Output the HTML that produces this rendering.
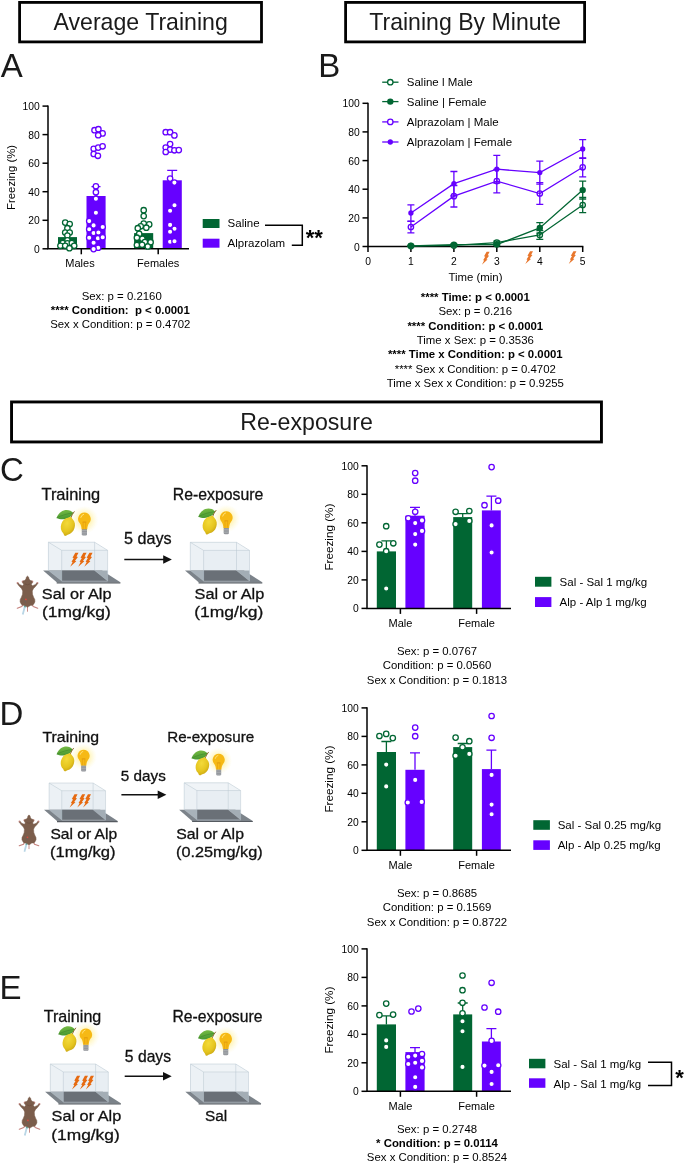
<!DOCTYPE html>
<html><head><meta charset="utf-8"><title>Figure</title>
<style>
html,body{margin:0;padding:0;background:#fff;}
svg{display:block;font-family:"Liberation Sans",sans-serif;fill:#000;}
.t11{font-size:11px}
.ax{stroke:#000;stroke-width:1.5;fill:none}
</style></head><body>
<svg width="685" height="1164" viewBox="0 0 685 1164">
<rect width="685" height="1164" fill="#fff"/>
<g opacity="0.999">

<rect x="19.60" y="2.40" width="241.90" height="39.50" fill="#fff" stroke="#000" stroke-width="2.8"/>
<text x="53.48" y="29.8" font-size="24.4" textLength="174.36" lengthAdjust="spacingAndGlyphs" fill="#1a1a1a">Average Training</text>
<rect x="345.60" y="2.40" width="239.00" height="39.50" fill="#fff" stroke="#000" stroke-width="2.8"/>
<text x="369.22" y="29.8" font-size="24.4" textLength="191.62" lengthAdjust="spacingAndGlyphs" fill="#1a1a1a">Training By Minute</text>
<rect x="11.55" y="401.95" width="589.90" height="40.00" fill="#fff" stroke="#000" stroke-width="2.9"/>
<text x="240.25" y="429.7" font-size="24.4" textLength="132.60" lengthAdjust="spacingAndGlyphs" fill="#1a1a1a">Re-exposure</text>
<text x="0.7" y="76.8" font-size="33" fill="#1a1a1a">A</text>
<text x="318.2" y="76.8" font-size="33" fill="#1a1a1a">B</text>
<text x="0" y="481.2" font-size="33" fill="#1a1a1a">C</text>
<text x="-0.4" y="725.3" font-size="33" fill="#1a1a1a">D</text>
<text x="-0.4" y="999.4" font-size="33" fill="#1a1a1a">E</text>
<rect x="58.0" y="237.1" width="19.0" height="11.7" fill="#006633"/>
<rect x="86.5" y="196.0" width="19.1" height="52.8" fill="#6600FF"/>
<rect x="134.1" y="233.1" width="19.1" height="15.7" fill="#006633"/>
<rect x="162.7" y="180.3" width="19.1" height="68.5" fill="#6600FF"/>
<path d="M96.0 196.0V186.7M91.5 186.7H100.5" stroke="#6600FF" stroke-width="1.3" fill="none"/>
<path d="M172.2 180.3V170.3M167.2 170.3H177.2" stroke="#6600FF" stroke-width="1.3" fill="none"/>
<path class="ax" d="M48 105.5V248.8M47.35 248.8H189"/>
<path class="ax" d="M42.5 248.8H48"/>
<text x="33.96" y="252.8" font-size="11.1" textLength="5.74" lengthAdjust="spacingAndGlyphs">0</text>
<path class="ax" d="M42.5 220.3H48"/>
<text x="28.22" y="224.3" font-size="11.1" textLength="11.48" lengthAdjust="spacingAndGlyphs">20</text>
<path class="ax" d="M42.5 191.7H48"/>
<text x="28.22" y="195.7" font-size="11.1" textLength="11.48" lengthAdjust="spacingAndGlyphs">40</text>
<path class="ax" d="M42.5 163.2H48"/>
<text x="28.22" y="167.2" font-size="11.1" textLength="11.48" lengthAdjust="spacingAndGlyphs">60</text>
<path class="ax" d="M42.5 134.6H48"/>
<text x="28.22" y="138.6" font-size="11.1" textLength="11.48" lengthAdjust="spacingAndGlyphs">80</text>
<path class="ax" d="M42.5 106.1H48"/>
<text x="22.48" y="110.1" font-size="11.1" textLength="17.22" lengthAdjust="spacingAndGlyphs">100</text>
<path class="ax" d="M81.3 248.8V254.3"/>
<path class="ax" d="M158.2 248.8V254.3"/>
<text x="80" y="267.2" font-size="11" text-anchor="middle">Males</text>
<text x="158.2" y="267.2" font-size="11" text-anchor="middle">Females</text>
<circle cx="65.2" cy="222.6" r="2.7" fill="#fff" stroke="#006633" stroke-width="1.3"/>
<circle cx="69.7" cy="224.0" r="2.7" fill="#fff" stroke="#006633" stroke-width="1.3"/>
<circle cx="67.4" cy="228.2" r="2.7" fill="#fff" stroke="#006633" stroke-width="1.3"/>
<circle cx="65.2" cy="232.5" r="2.7" fill="#fff" stroke="#006633" stroke-width="1.3"/>
<circle cx="69.7" cy="232.5" r="2.7" fill="#fff" stroke="#006633" stroke-width="1.3"/>
<circle cx="67.4" cy="235.6" r="2.7" fill="#fff" stroke="#006633" stroke-width="1.3"/>
<circle cx="67.4" cy="240.3" r="2.7" fill="#fff" stroke="#006633" stroke-width="1.3"/>
<circle cx="62.8" cy="243.0" r="2.7" fill="#fff" stroke="#006633" stroke-width="1.3"/>
<circle cx="67.4" cy="243.4" r="2.7" fill="#fff" stroke="#006633" stroke-width="1.3"/>
<circle cx="71.8" cy="243.0" r="2.7" fill="#fff" stroke="#006633" stroke-width="1.3"/>
<circle cx="60.4" cy="245.8" r="2.7" fill="#fff" stroke="#006633" stroke-width="1.3"/>
<circle cx="74.2" cy="245.8" r="2.7" fill="#fff" stroke="#006633" stroke-width="1.3"/>
<circle cx="65.2" cy="245.8" r="2.7" fill="#fff" stroke="#006633" stroke-width="1.3"/>
<circle cx="69.4" cy="248.2" r="2.7" fill="#fff" stroke="#006633" stroke-width="1.3"/>
<circle cx="94.5" cy="130.2" r="2.7" fill="#fff" stroke="#6600FF" stroke-width="1.3"/>
<circle cx="98.4" cy="129.2" r="2.7" fill="#fff" stroke="#6600FF" stroke-width="1.3"/>
<circle cx="102.6" cy="133.4" r="2.7" fill="#fff" stroke="#6600FF" stroke-width="1.3"/>
<circle cx="98.2" cy="135.2" r="2.7" fill="#fff" stroke="#6600FF" stroke-width="1.3"/>
<circle cx="93.7" cy="148.8" r="2.7" fill="#fff" stroke="#6600FF" stroke-width="1.3"/>
<circle cx="98.2" cy="147.6" r="2.7" fill="#fff" stroke="#6600FF" stroke-width="1.3"/>
<circle cx="102.6" cy="146.3" r="2.7" fill="#fff" stroke="#6600FF" stroke-width="1.3"/>
<circle cx="93.7" cy="154.0" r="2.7" fill="#fff" stroke="#6600FF" stroke-width="1.3"/>
<circle cx="97.9" cy="155.8" r="2.7" fill="#fff" stroke="#6600FF" stroke-width="1.3"/>
<circle cx="95.9" cy="186.3" r="2.7" fill="#fff" stroke="#6600FF" stroke-width="1.3"/>
<circle cx="95.9" cy="192.2" r="2.7" fill="#fff" stroke="#6600FF" stroke-width="1.3"/>
<circle cx="95.9" cy="198.7" r="2.7" fill="#fff" stroke="#6600FF" stroke-width="1.3"/>
<circle cx="95.9" cy="212.8" r="2.7" fill="#fff" stroke="#6600FF" stroke-width="1.3"/>
<circle cx="89.2" cy="221.1" r="2.7" fill="#fff" stroke="#6600FF" stroke-width="1.3"/>
<circle cx="93.6" cy="225.4" r="2.7" fill="#fff" stroke="#6600FF" stroke-width="1.3"/>
<circle cx="102.7" cy="227.0" r="2.7" fill="#fff" stroke="#6600FF" stroke-width="1.3"/>
<circle cx="89.2" cy="229.2" r="2.7" fill="#fff" stroke="#6600FF" stroke-width="1.3"/>
<circle cx="93.6" cy="233.0" r="2.7" fill="#fff" stroke="#6600FF" stroke-width="1.3"/>
<circle cx="98.4" cy="232.5" r="2.7" fill="#fff" stroke="#6600FF" stroke-width="1.3"/>
<circle cx="89.2" cy="237.7" r="2.7" fill="#fff" stroke="#6600FF" stroke-width="1.3"/>
<circle cx="97.9" cy="238.2" r="2.7" fill="#fff" stroke="#6600FF" stroke-width="1.3"/>
<circle cx="102.7" cy="237.3" r="2.7" fill="#fff" stroke="#6600FF" stroke-width="1.3"/>
<circle cx="93.6" cy="242.7" r="2.7" fill="#fff" stroke="#6600FF" stroke-width="1.3"/>
<circle cx="98.2" cy="247.7" r="2.7" fill="#fff" stroke="#6600FF" stroke-width="1.3"/>
<circle cx="93.6" cy="249.1" r="2.7" fill="#fff" stroke="#6600FF" stroke-width="1.3"/>
<circle cx="143.7" cy="210.2" r="2.7" fill="#fff" stroke="#006633" stroke-width="1.3"/>
<circle cx="143.7" cy="216.1" r="2.7" fill="#fff" stroke="#006633" stroke-width="1.3"/>
<circle cx="143.7" cy="223.5" r="2.7" fill="#fff" stroke="#006633" stroke-width="1.3"/>
<circle cx="149.2" cy="224.4" r="2.7" fill="#fff" stroke="#006633" stroke-width="1.3"/>
<circle cx="140.7" cy="226.3" r="2.7" fill="#fff" stroke="#006633" stroke-width="1.3"/>
<circle cx="137.8" cy="228.2" r="2.7" fill="#fff" stroke="#006633" stroke-width="1.3"/>
<circle cx="146.3" cy="227.7" r="2.7" fill="#fff" stroke="#006633" stroke-width="1.3"/>
<circle cx="139.2" cy="233.9" r="2.7" fill="#fff" stroke="#006633" stroke-width="1.3"/>
<circle cx="136.9" cy="237.7" r="2.7" fill="#fff" stroke="#006633" stroke-width="1.3"/>
<circle cx="142.4" cy="238.8" r="2.7" fill="#fff" stroke="#006633" stroke-width="1.3"/>
<circle cx="144.9" cy="242.0" r="2.7" fill="#fff" stroke="#006633" stroke-width="1.3"/>
<circle cx="150.6" cy="242.2" r="2.7" fill="#fff" stroke="#006633" stroke-width="1.3"/>
<circle cx="136.9" cy="245.0" r="2.7" fill="#fff" stroke="#006633" stroke-width="1.3"/>
<circle cx="142.1" cy="244.8" r="2.7" fill="#fff" stroke="#006633" stroke-width="1.3"/>
<circle cx="147.8" cy="246.5" r="2.7" fill="#fff" stroke="#006633" stroke-width="1.3"/>
<circle cx="165.7" cy="132.2" r="2.7" fill="#fff" stroke="#6600FF" stroke-width="1.3"/>
<circle cx="170.1" cy="132.2" r="2.7" fill="#fff" stroke="#6600FF" stroke-width="1.3"/>
<circle cx="174.4" cy="135.4" r="2.7" fill="#fff" stroke="#6600FF" stroke-width="1.3"/>
<circle cx="170.1" cy="144.1" r="2.7" fill="#fff" stroke="#6600FF" stroke-width="1.3"/>
<circle cx="165.7" cy="147.6" r="2.7" fill="#fff" stroke="#6600FF" stroke-width="1.3"/>
<circle cx="170.1" cy="149.6" r="2.7" fill="#fff" stroke="#6600FF" stroke-width="1.3"/>
<circle cx="174.4" cy="150.3" r="2.7" fill="#fff" stroke="#6600FF" stroke-width="1.3"/>
<circle cx="178.8" cy="150.1" r="2.7" fill="#fff" stroke="#6600FF" stroke-width="1.3"/>
<circle cx="165.7" cy="152.0" r="2.7" fill="#fff" stroke="#6600FF" stroke-width="1.3"/>
<circle cx="170.1" cy="178.6" r="2.7" fill="#fff" stroke="#6600FF" stroke-width="1.3"/>
<circle cx="174.4" cy="182.6" r="2.7" fill="#fff" stroke="#6600FF" stroke-width="1.3"/>
<circle cx="174.5" cy="205.2" r="2.7" fill="#fff" stroke="#6600FF" stroke-width="1.3"/>
<circle cx="170.1" cy="210.8" r="2.7" fill="#fff" stroke="#6600FF" stroke-width="1.3"/>
<circle cx="170.1" cy="224.9" r="2.7" fill="#fff" stroke="#6600FF" stroke-width="1.3"/>
<circle cx="174.5" cy="228.7" r="2.7" fill="#fff" stroke="#6600FF" stroke-width="1.3"/>
<circle cx="170.1" cy="231.8" r="2.7" fill="#fff" stroke="#6600FF" stroke-width="1.3"/>
<circle cx="170.1" cy="241.8" r="2.7" fill="#fff" stroke="#6600FF" stroke-width="1.3"/>
<circle cx="174.5" cy="241.2" r="2.7" fill="#fff" stroke="#6600FF" stroke-width="1.3"/>
<text transform="translate(14.5 177.45) rotate(-90)" font-size="11.4" text-anchor="middle">Freezing (%)</text>
<rect x="202.7" y="219" width="16.8" height="9" fill="#006633"/><rect x="202.7" y="238.7" width="16.8" height="9" fill="#6600FF"/>
<text x="227.6" y="227.2" font-size="11.5">Saline</text><text x="227.6" y="247.3" font-size="11.5">Alprazolam</text>
<path class="ax" d="M265 225.2H302.3V245.3H291.8"/>
<text x="305.8" y="245.4" font-size="22" font-weight="bold">**</text>
<text x="121.7" y="299.6" font-size="11.4" text-anchor="middle" xml:space="preserve">Sex: p = 0.2160</text>
<text x="120.3" y="313.7" font-size="11.4" text-anchor="middle" font-weight="bold" xml:space="preserve">**** Condition:  p &lt; 0.0001</text>
<text x="120.3" y="328.3" font-size="11.4" text-anchor="middle" xml:space="preserve">Sex x Condition: p = 0.4702</text>
<path class="ax" d="M368 102.7V246.5M367.35 246.5H583.35"/>
<path class="ax" d="M362.5 246.5H368"/>
<text x="353.96" y="250.5" font-size="11.1" textLength="5.74" lengthAdjust="spacingAndGlyphs">0</text>
<path class="ax" d="M362.5 217.9H368"/>
<text x="348.22" y="221.9" font-size="11.1" textLength="11.48" lengthAdjust="spacingAndGlyphs">20</text>
<path class="ax" d="M362.5 189.2H368"/>
<text x="348.22" y="193.2" font-size="11.1" textLength="11.48" lengthAdjust="spacingAndGlyphs">40</text>
<path class="ax" d="M362.5 160.6H368"/>
<text x="348.22" y="164.6" font-size="11.1" textLength="11.48" lengthAdjust="spacingAndGlyphs">60</text>
<path class="ax" d="M362.5 131.9H368"/>
<text x="348.22" y="135.9" font-size="11.1" textLength="11.48" lengthAdjust="spacingAndGlyphs">80</text>
<path class="ax" d="M362.5 103.3H368"/>
<text x="342.48" y="107.3" font-size="11.1" textLength="17.22" lengthAdjust="spacingAndGlyphs">100</text>
<path class="ax" d="M368.0 246.5V252.0"/>
<text x="365.13" y="264.8" font-size="11.1" textLength="5.74" lengthAdjust="spacingAndGlyphs">0</text>
<path class="ax" d="M410.9 246.5V252.0"/>
<text x="408.07" y="264.8" font-size="11.1" textLength="5.74" lengthAdjust="spacingAndGlyphs">1</text>
<path class="ax" d="M453.9 246.5V252.0"/>
<text x="451.01" y="264.8" font-size="11.1" textLength="5.74" lengthAdjust="spacingAndGlyphs">2</text>
<path class="ax" d="M496.8 246.5V252.0"/>
<text x="493.95" y="264.8" font-size="11.1" textLength="5.74" lengthAdjust="spacingAndGlyphs">3</text>
<path class="ax" d="M539.8 246.5V252.0"/>
<text x="536.89" y="264.8" font-size="11.1" textLength="5.74" lengthAdjust="spacingAndGlyphs">4</text>
<path class="ax" d="M582.7 246.5V252.0"/>
<text x="579.83" y="264.8" font-size="11.1" textLength="5.74" lengthAdjust="spacingAndGlyphs">5</text>
<text x="475.5" y="281" font-size="11.4" text-anchor="middle">Time (min)</text>
<circle cx="410.9" cy="246.1" r="2.7" fill="#fff" fill-opacity="0.75" stroke="#006633" stroke-width="1.3"/>
<circle cx="453.9" cy="245.4" r="2.7" fill="#fff" fill-opacity="0.75" stroke="#006633" stroke-width="1.3"/>
<circle cx="496.8" cy="242.6" r="2.7" fill="#fff" fill-opacity="0.75" stroke="#006633" stroke-width="1.3"/>
<circle cx="539.8" cy="235.0" r="2.7" fill="#fff" fill-opacity="0.75" stroke="#006633" stroke-width="1.3"/>
<circle cx="582.7" cy="205.0" r="2.7" fill="#fff" fill-opacity="0.75" stroke="#006633" stroke-width="1.3"/>
<path d="M410.9 246.1L453.9 245.4L496.8 242.6L539.8 235.0L582.7 205.0" stroke="#006633" stroke-width="1.3" fill="none"/>
<path d="M410.9 245.6V246.5M407.4 245.6H414.4M407.4 246.5H414.4" stroke="#006633" stroke-width="1.3" fill="none"/>
<path d="M453.9 244.8V245.9M450.4 244.8H457.4M450.4 245.9H457.4" stroke="#006633" stroke-width="1.3" fill="none"/>
<path d="M496.8 241.2V244.1M493.3 241.2H500.3M493.3 244.1H500.3" stroke="#006633" stroke-width="1.3" fill="none"/>
<path d="M539.8 230.7V239.3M536.3 230.7H543.3M536.3 239.3H543.3" stroke="#006633" stroke-width="1.3" fill="none"/>
<path d="M582.7 197.4V212.6M579.2 197.4H586.2M579.2 212.6H586.2" stroke="#006633" stroke-width="1.3" fill="none"/>
<path d="M410.9 245.8L453.9 244.6L496.8 244.6L539.8 227.9L582.7 190.1" stroke="#006633" stroke-width="1.3" fill="none"/>
<path d="M410.9 245.2V246.4M407.4 245.2H414.4M407.4 246.4H414.4" stroke="#006633" stroke-width="1.3" fill="none"/>
<path d="M453.9 243.9V245.4M450.4 243.9H457.4M450.4 245.4H457.4" stroke="#006633" stroke-width="1.3" fill="none"/>
<path d="M496.8 243.9V245.4M493.3 243.9H500.3M493.3 245.4H500.3" stroke="#006633" stroke-width="1.3" fill="none"/>
<path d="M539.8 222.6V233.2M536.3 222.6H543.3M536.3 233.2H543.3" stroke="#006633" stroke-width="1.3" fill="none"/>
<path d="M582.7 181.2V199.0M579.2 181.2H586.2M579.2 199.0H586.2" stroke="#006633" stroke-width="1.3" fill="none"/>
<circle cx="410.9" cy="245.8" r="3.2" fill="#006633"/>
<circle cx="453.9" cy="244.6" r="3.2" fill="#006633"/>
<circle cx="496.8" cy="244.6" r="3.2" fill="#006633"/>
<circle cx="539.8" cy="227.9" r="3.2" fill="#006633"/>
<circle cx="582.7" cy="190.1" r="3.2" fill="#006633"/>
<circle cx="410.9" cy="227.0" r="2.7" fill="#fff" fill-opacity="0.75" stroke="#6600FF" stroke-width="1.3"/>
<circle cx="453.9" cy="196.2" r="2.7" fill="#fff" fill-opacity="0.75" stroke="#6600FF" stroke-width="1.3"/>
<circle cx="496.8" cy="181.1" r="2.7" fill="#fff" fill-opacity="0.75" stroke="#6600FF" stroke-width="1.3"/>
<circle cx="539.8" cy="193.5" r="2.7" fill="#fff" fill-opacity="0.75" stroke="#6600FF" stroke-width="1.3"/>
<circle cx="582.7" cy="167.3" r="2.7" fill="#fff" fill-opacity="0.75" stroke="#6600FF" stroke-width="1.3"/>
<path d="M410.9 227.0L453.9 196.2L496.8 181.1L539.8 193.5L582.7 167.3" stroke="#6600FF" stroke-width="1.3" fill="none"/>
<path d="M410.9 221.3V232.8M407.4 221.3H414.4M407.4 232.8H414.4" stroke="#6600FF" stroke-width="1.3" fill="none"/>
<path d="M453.9 185.5V207.0M450.4 185.5H457.4M450.4 207.0H457.4" stroke="#6600FF" stroke-width="1.3" fill="none"/>
<path d="M496.8 169.3V192.8M493.3 169.3H500.3M493.3 192.8H500.3" stroke="#6600FF" stroke-width="1.3" fill="none"/>
<path d="M539.8 182.6V204.4M536.3 182.6H543.3M536.3 204.4H543.3" stroke="#6600FF" stroke-width="1.3" fill="none"/>
<path d="M582.7 157.9V176.8M579.2 157.9H586.2M579.2 176.8H586.2" stroke="#6600FF" stroke-width="1.3" fill="none"/>
<path d="M410.9 213.0L453.9 183.6L496.8 169.2L539.8 172.6L582.7 149.0" stroke="#6600FF" stroke-width="1.3" fill="none"/>
<path d="M410.9 204.8V221.2M407.4 204.8H414.4M407.4 221.2H414.4" stroke="#6600FF" stroke-width="1.3" fill="none"/>
<path d="M453.9 171.5V195.8M450.4 171.5H457.4M450.4 195.8H457.4" stroke="#6600FF" stroke-width="1.3" fill="none"/>
<path d="M496.8 155.3V183.1M493.3 155.3H500.3M493.3 183.1H500.3" stroke="#6600FF" stroke-width="1.3" fill="none"/>
<path d="M539.8 161.2V184.1M536.3 161.2H543.3M536.3 184.1H543.3" stroke="#6600FF" stroke-width="1.3" fill="none"/>
<path d="M582.7 139.7V158.3M579.2 139.7H586.2M579.2 158.3H586.2" stroke="#6600FF" stroke-width="1.3" fill="none"/>
<circle cx="410.9" cy="213.0" r="2.65" fill="#6600FF"/>
<circle cx="453.9" cy="183.6" r="2.65" fill="#6600FF"/>
<circle cx="496.8" cy="169.2" r="2.65" fill="#6600FF"/>
<circle cx="539.8" cy="172.6" r="2.65" fill="#6600FF"/>
<circle cx="582.7" cy="149.0" r="2.65" fill="#6600FF"/>
<path d="M382.2 82.2H398.5" stroke="#006633" stroke-width="1.3"/>
<circle cx="390.3" cy="82.2" r="2.7" fill="#fff" fill-opacity="1" stroke="#006633" stroke-width="1.3"/>
<text x="406.8" y="86.3" font-size="11.5">Saline l Male</text>
<path d="M382.2 101.6H398.5" stroke="#006633" stroke-width="1.3"/>
<circle cx="390.3" cy="101.6" r="3.2" fill="#006633"/>
<text x="406.8" y="105.69999999999999" font-size="11.5">Saline | Female</text>
<path d="M382.2 121.9H398.5" stroke="#6600FF" stroke-width="1.3"/>
<circle cx="390.3" cy="121.9" r="2.7" fill="#fff" fill-opacity="1" stroke="#6600FF" stroke-width="1.3"/>
<text x="406.8" y="126.0" font-size="11.5">Alprazolam | Male</text>
<path d="M382.2 142.0H398.5" stroke="#6600FF" stroke-width="1.3"/>
<circle cx="390.3" cy="142.0" r="2.65" fill="#6600FF"/>
<text x="406.8" y="146.1" font-size="11.5">Alprazolam | Female</text>
<path transform="translate(485.8 258.2) scale(0.93)" d="M0.9 -6.9H4.1L2.1 -3.1L3.5 -2.7L0.6 1.1L1.9 1.5L-4.2 7L-1.8 2.4L-2.9 2.1L-0.6 -1.6L-1.9 -2Z" fill="#E8762C"/>
<path transform="translate(529.2 257.6) scale(0.93)" d="M0.9 -6.9H4.1L2.1 -3.1L3.5 -2.7L0.6 1.1L1.9 1.5L-4.2 7L-1.8 2.4L-2.9 2.1L-0.6 -1.6L-1.9 -2Z" fill="#E8762C"/>
<path transform="translate(572.6 257.6) scale(0.93)" d="M0.9 -6.9H4.1L2.1 -3.1L3.5 -2.7L0.6 1.1L1.9 1.5L-4.2 7L-1.8 2.4L-2.9 2.1L-0.6 -1.6L-1.9 -2Z" fill="#E8762C"/>
<text x="475.3" y="300.8" font-size="11.4" text-anchor="middle" font-weight="bold" xml:space="preserve">**** Time: p &lt; 0.0001</text>
<text x="475.3" y="315.2" font-size="11.4" text-anchor="middle" xml:space="preserve">Sex: p = 0.216</text>
<text x="475.3" y="329.5" font-size="11.4" text-anchor="middle" font-weight="bold" xml:space="preserve">**** Condition: p &lt; 0.0001</text>
<text x="475.3" y="343.9" font-size="11.4" text-anchor="middle" xml:space="preserve">Time x Sex: p = 0.3536</text>
<text x="475.3" y="358.3" font-size="11.4" text-anchor="middle" font-weight="bold" xml:space="preserve">**** Time x Condition: p &lt; 0.0001</text>
<text x="475.3" y="372.7" font-size="11.4" text-anchor="middle" xml:space="preserve">**** Sex x Condition: p = 0.4702</text>
<text x="475.3" y="387.1" font-size="11.4" text-anchor="middle" xml:space="preserve">Time x Sex x Condition: p = 0.9255</text>
<rect x="376.8" y="551.4" width="19.2" height="57.0" fill="#006633"/>
<rect x="405.4" y="515.7" width="19.2" height="92.7" fill="#6600FF"/>
<rect x="453.2" y="517.1" width="19.0" height="91.3" fill="#006633"/>
<rect x="481.9" y="510.4" width="18.9" height="98.0" fill="#6600FF"/>
<path d="M386.4 551.4V540.8M381.4 540.8H391.4" stroke="#006633" stroke-width="1.3" fill="none"/>
<path d="M415.0 515.7V507.3M410.0 507.3H420.0" stroke="#6600FF" stroke-width="1.3" fill="none"/>
<path d="M462.7 517.1V513.6M457.7 513.6H467.7" stroke="#006633" stroke-width="1.3" fill="none"/>
<path d="M491.4 510.4V496.2M486.4 496.2H496.4" stroke="#6600FF" stroke-width="1.3" fill="none"/>
<path class="ax" d="M367 465.2V608.4M366.35 608.4H511"/>
<path class="ax" d="M361.5 608.4H367"/>
<text x="352.96" y="612.4" font-size="11.1" textLength="5.74" lengthAdjust="spacingAndGlyphs">0</text>
<path class="ax" d="M361.5 579.9H367"/>
<text x="347.22" y="583.9" font-size="11.1" textLength="11.48" lengthAdjust="spacingAndGlyphs">20</text>
<path class="ax" d="M361.5 551.4H367"/>
<text x="347.22" y="555.4" font-size="11.1" textLength="11.48" lengthAdjust="spacingAndGlyphs">40</text>
<path class="ax" d="M361.5 522.8H367"/>
<text x="347.22" y="526.8" font-size="11.1" textLength="11.48" lengthAdjust="spacingAndGlyphs">60</text>
<path class="ax" d="M361.5 494.3H367"/>
<text x="347.22" y="498.3" font-size="11.1" textLength="11.48" lengthAdjust="spacingAndGlyphs">80</text>
<path class="ax" d="M361.5 465.8H367"/>
<text x="341.48" y="469.8" font-size="11.1" textLength="17.22" lengthAdjust="spacingAndGlyphs">100</text>
<path class="ax" d="M400.4 608.4V613.9"/>
<path class="ax" d="M476.6 608.4V613.9"/>
<text x="400.4" y="626.6" font-size="11" text-anchor="middle">Male</text>
<text x="476.6" y="626.6" font-size="11" text-anchor="middle">Female</text>
<circle cx="386.2" cy="526.2" r="2.7" fill="#fff" stroke="#006633" stroke-width="1.3"/>
<circle cx="379.4" cy="544.6" r="2.7" fill="#fff" stroke="#006633" stroke-width="1.3"/>
<circle cx="393.3" cy="543.3" r="2.7" fill="#fff" stroke="#006633" stroke-width="1.3"/>
<circle cx="386.2" cy="551.2" r="2.7" fill="#fff" stroke="#006633" stroke-width="1.3"/>
<circle cx="386.2" cy="588.5" r="2.7" fill="#fff" stroke="#006633" stroke-width="1.3"/>
<circle cx="415.2" cy="473.1" r="2.7" fill="#fff" stroke="#6600FF" stroke-width="1.3"/>
<circle cx="415.2" cy="480.7" r="2.7" fill="#fff" stroke="#6600FF" stroke-width="1.3"/>
<circle cx="415.2" cy="511.8" r="2.7" fill="#fff" stroke="#6600FF" stroke-width="1.3"/>
<circle cx="408.3" cy="518.3" r="2.7" fill="#fff" stroke="#6600FF" stroke-width="1.3"/>
<circle cx="422.0" cy="520.4" r="2.7" fill="#fff" stroke="#6600FF" stroke-width="1.3"/>
<circle cx="415.2" cy="523.1" r="2.7" fill="#fff" stroke="#6600FF" stroke-width="1.3"/>
<circle cx="422.0" cy="530.9" r="2.7" fill="#fff" stroke="#6600FF" stroke-width="1.3"/>
<circle cx="415.2" cy="534.1" r="2.7" fill="#fff" stroke="#6600FF" stroke-width="1.3"/>
<circle cx="415.2" cy="544.6" r="2.7" fill="#fff" stroke="#6600FF" stroke-width="1.3"/>
<circle cx="455.6" cy="511.8" r="2.7" fill="#fff" stroke="#006633" stroke-width="1.3"/>
<circle cx="469.3" cy="511.0" r="2.7" fill="#fff" stroke="#006633" stroke-width="1.3"/>
<circle cx="455.6" cy="524.1" r="2.7" fill="#fff" stroke="#006633" stroke-width="1.3"/>
<circle cx="469.3" cy="520.9" r="2.7" fill="#fff" stroke="#006633" stroke-width="1.3"/>
<circle cx="491.6" cy="467.1" r="2.7" fill="#fff" stroke="#6600FF" stroke-width="1.3"/>
<circle cx="498.2" cy="500.7" r="2.7" fill="#fff" stroke="#6600FF" stroke-width="1.3"/>
<circle cx="484.5" cy="505.2" r="2.7" fill="#fff" stroke="#6600FF" stroke-width="1.3"/>
<circle cx="491.6" cy="525.4" r="2.7" fill="#fff" stroke="#6600FF" stroke-width="1.3"/>
<circle cx="491.6" cy="552.5" r="2.7" fill="#fff" stroke="#6600FF" stroke-width="1.3"/>
<text transform="translate(332.9 537.1) rotate(-90)" font-size="11.7" text-anchor="middle">Freezing (%)</text>
<rect x="535" y="576.8" width="16.4" height="9.9" fill="#006633"/><rect x="535" y="597.1" width="16.4" height="9.9" fill="#6600FF"/>
<text x="559.6" y="586.1" font-size="11.5">Sal - Sal 1 mg/kg</text><text x="559.6" y="606.4" font-size="11.5">Alp - Alp 1 mg/kg</text>
<text x="437" y="655.1" font-size="11.4" text-anchor="middle" xml:space="preserve">Sex: p = 0.0767</text>
<text x="437" y="669.3" font-size="11.4" text-anchor="middle" xml:space="preserve">Condition: p = 0.0560</text>
<text x="437" y="683.6" font-size="11.4" text-anchor="middle" xml:space="preserve">Sex x Condition: p = 0.1813</text>
<rect x="376.8" y="752.0" width="19.2" height="98.3" fill="#006633"/>
<rect x="405.4" y="769.8" width="19.2" height="80.5" fill="#6600FF"/>
<rect x="453.2" y="747.1" width="19.0" height="103.2" fill="#006633"/>
<rect x="481.9" y="769.1" width="18.9" height="81.2" fill="#6600FF"/>
<path d="M386.4 752.0V741.5M381.4 741.5H391.4" stroke="#006633" stroke-width="1.3" fill="none"/>
<path d="M415.0 769.8V752.8M410.0 752.8H420.0" stroke="#6600FF" stroke-width="1.3" fill="none"/>
<path d="M462.7 747.1V743.5M457.7 743.5H467.7" stroke="#006633" stroke-width="1.3" fill="none"/>
<path d="M491.4 769.1V750.2M486.4 750.2H496.4" stroke="#6600FF" stroke-width="1.3" fill="none"/>
<path class="ax" d="M367 707.3V850.3M366.35 850.3H511"/>
<path class="ax" d="M361.5 850.3H367"/>
<text x="352.96" y="854.3" font-size="11.1" textLength="5.74" lengthAdjust="spacingAndGlyphs">0</text>
<path class="ax" d="M361.5 821.8H367"/>
<text x="347.22" y="825.8" font-size="11.1" textLength="11.48" lengthAdjust="spacingAndGlyphs">20</text>
<path class="ax" d="M361.5 793.3H367"/>
<text x="347.22" y="797.3" font-size="11.1" textLength="11.48" lengthAdjust="spacingAndGlyphs">40</text>
<path class="ax" d="M361.5 764.9H367"/>
<text x="347.22" y="768.9" font-size="11.1" textLength="11.48" lengthAdjust="spacingAndGlyphs">60</text>
<path class="ax" d="M361.5 736.4H367"/>
<text x="347.22" y="740.4" font-size="11.1" textLength="11.48" lengthAdjust="spacingAndGlyphs">80</text>
<path class="ax" d="M361.5 707.9H367"/>
<text x="341.48" y="711.9" font-size="11.1" textLength="17.22" lengthAdjust="spacingAndGlyphs">100</text>
<path class="ax" d="M400.4 850.3V855.8"/>
<path class="ax" d="M476.6 850.3V855.8"/>
<text x="400.4" y="868.7" font-size="11" text-anchor="middle">Male</text>
<text x="476.6" y="868.7" font-size="11" text-anchor="middle">Female</text>
<circle cx="379.4" cy="736.0" r="2.7" fill="#fff" stroke="#006633" stroke-width="1.3"/>
<circle cx="386.2" cy="733.9" r="2.7" fill="#fff" stroke="#006633" stroke-width="1.3"/>
<circle cx="392.8" cy="738.1" r="2.7" fill="#fff" stroke="#006633" stroke-width="1.3"/>
<circle cx="386.2" cy="764.6" r="2.7" fill="#fff" stroke="#006633" stroke-width="1.3"/>
<circle cx="386.2" cy="786.4" r="2.7" fill="#fff" stroke="#006633" stroke-width="1.3"/>
<circle cx="415.2" cy="727.6" r="2.7" fill="#fff" stroke="#6600FF" stroke-width="1.3"/>
<circle cx="415.2" cy="736.2" r="2.7" fill="#fff" stroke="#6600FF" stroke-width="1.3"/>
<circle cx="415.2" cy="779.9" r="2.7" fill="#fff" stroke="#6600FF" stroke-width="1.3"/>
<circle cx="407.8" cy="802.5" r="2.7" fill="#fff" stroke="#6600FF" stroke-width="1.3"/>
<circle cx="421.7" cy="801.9" r="2.7" fill="#fff" stroke="#6600FF" stroke-width="1.3"/>
<circle cx="455.6" cy="737.6" r="2.7" fill="#fff" stroke="#006633" stroke-width="1.3"/>
<circle cx="469.3" cy="741.2" r="2.7" fill="#fff" stroke="#006633" stroke-width="1.3"/>
<circle cx="462.5" cy="747.3" r="2.7" fill="#fff" stroke="#006633" stroke-width="1.3"/>
<circle cx="455.6" cy="755.7" r="2.7" fill="#fff" stroke="#006633" stroke-width="1.3"/>
<circle cx="469.3" cy="753.9" r="2.7" fill="#fff" stroke="#006633" stroke-width="1.3"/>
<circle cx="491.6" cy="716.0" r="2.7" fill="#fff" stroke="#6600FF" stroke-width="1.3"/>
<circle cx="491.6" cy="737.8" r="2.7" fill="#fff" stroke="#6600FF" stroke-width="1.3"/>
<circle cx="491.6" cy="774.9" r="2.7" fill="#fff" stroke="#6600FF" stroke-width="1.3"/>
<circle cx="491.6" cy="804.6" r="2.7" fill="#fff" stroke="#6600FF" stroke-width="1.3"/>
<circle cx="491.6" cy="814.3" r="2.7" fill="#fff" stroke="#6600FF" stroke-width="1.3"/>
<text transform="translate(332.9 779.0999999999999) rotate(-90)" font-size="11.7" text-anchor="middle">Freezing (%)</text>
<rect x="533.3" y="820.2" width="16.6" height="9.6" fill="#006633"/><rect x="533.3" y="840.3" width="16.6" height="9.6" fill="#6600FF"/>
<text x="557.7" y="829.2" font-size="11.5">Sal - Sal 0.25 mg/kg</text><text x="557.7" y="849.4" font-size="11.5">Alp - Alp 0.25 mg/kg</text>
<text x="437" y="897" font-size="11.4" text-anchor="middle" xml:space="preserve">Sex: p = 0.8685</text>
<text x="437" y="911.3" font-size="11.4" text-anchor="middle" xml:space="preserve">Condition: p = 0.1569</text>
<text x="437" y="925.6" font-size="11.4" text-anchor="middle" xml:space="preserve">Sex x Condition: p = 0.8722</text>
<rect x="376.8" y="1024.4" width="19.2" height="66.9" fill="#006633"/>
<rect x="405.4" y="1052.1" width="19.2" height="39.2" fill="#6600FF"/>
<rect x="453.2" y="1014.4" width="19.0" height="76.9" fill="#006633"/>
<rect x="481.9" y="1041.5" width="18.9" height="49.8" fill="#6600FF"/>
<path d="M386.4 1024.4V1015.8M381.4 1015.8H391.4" stroke="#006633" stroke-width="1.3" fill="none"/>
<path d="M415.0 1052.1V1047.6M410.0 1047.6H420.0" stroke="#6600FF" stroke-width="1.3" fill="none"/>
<path d="M462.7 1014.4V1003.0M457.7 1003.0H467.7" stroke="#006633" stroke-width="1.3" fill="none"/>
<path d="M491.4 1041.5V1028.6M486.4 1028.6H496.4" stroke="#6600FF" stroke-width="1.3" fill="none"/>
<path class="ax" d="M367 948.3V1091.3M366.35 1091.3H511"/>
<path class="ax" d="M361.5 1091.3H367"/>
<text x="352.96" y="1095.3" font-size="11.1" textLength="5.74" lengthAdjust="spacingAndGlyphs">0</text>
<path class="ax" d="M361.5 1062.8H367"/>
<text x="347.22" y="1066.8" font-size="11.1" textLength="11.48" lengthAdjust="spacingAndGlyphs">20</text>
<path class="ax" d="M361.5 1034.3H367"/>
<text x="347.22" y="1038.3" font-size="11.1" textLength="11.48" lengthAdjust="spacingAndGlyphs">40</text>
<path class="ax" d="M361.5 1005.9H367"/>
<text x="347.22" y="1009.9" font-size="11.1" textLength="11.48" lengthAdjust="spacingAndGlyphs">60</text>
<path class="ax" d="M361.5 977.4H367"/>
<text x="347.22" y="981.4" font-size="11.1" textLength="11.48" lengthAdjust="spacingAndGlyphs">80</text>
<path class="ax" d="M361.5 948.9H367"/>
<text x="341.48" y="952.9" font-size="11.1" textLength="17.22" lengthAdjust="spacingAndGlyphs">100</text>
<path class="ax" d="M400.4 1091.3V1096.8"/>
<path class="ax" d="M476.6 1091.3V1096.8"/>
<text x="400.4" y="1109.7" font-size="11" text-anchor="middle">Male</text>
<text x="476.6" y="1109.7" font-size="11" text-anchor="middle">Female</text>
<circle cx="386.2" cy="1003.6" r="2.7" fill="#fff" stroke="#006633" stroke-width="1.3"/>
<circle cx="379.4" cy="1015.1" r="2.7" fill="#fff" stroke="#006633" stroke-width="1.3"/>
<circle cx="393.1" cy="1014.6" r="2.7" fill="#fff" stroke="#006633" stroke-width="1.3"/>
<circle cx="386.2" cy="1040.4" r="2.7" fill="#fff" stroke="#006633" stroke-width="1.3"/>
<circle cx="386.2" cy="1046.9" r="2.7" fill="#fff" stroke="#006633" stroke-width="1.3"/>
<circle cx="411.5" cy="1011.5" r="2.7" fill="#fff" stroke="#6600FF" stroke-width="1.3"/>
<circle cx="418.3" cy="1008.6" r="2.7" fill="#fff" stroke="#6600FF" stroke-width="1.3"/>
<circle cx="408.3" cy="1056.7" r="2.7" fill="#fff" stroke="#6600FF" stroke-width="1.3"/>
<circle cx="415.2" cy="1055.6" r="2.7" fill="#fff" stroke="#6600FF" stroke-width="1.3"/>
<circle cx="422.0" cy="1054.0" r="2.7" fill="#fff" stroke="#6600FF" stroke-width="1.3"/>
<circle cx="408.3" cy="1064.0" r="2.7" fill="#fff" stroke="#6600FF" stroke-width="1.3"/>
<circle cx="415.2" cy="1062.7" r="2.7" fill="#fff" stroke="#6600FF" stroke-width="1.3"/>
<circle cx="422.0" cy="1060.9" r="2.7" fill="#fff" stroke="#6600FF" stroke-width="1.3"/>
<circle cx="422.0" cy="1067.4" r="2.7" fill="#fff" stroke="#6600FF" stroke-width="1.3"/>
<circle cx="415.2" cy="1077.2" r="2.7" fill="#fff" stroke="#6600FF" stroke-width="1.3"/>
<circle cx="415.2" cy="1086.9" r="2.7" fill="#fff" stroke="#6600FF" stroke-width="1.3"/>
<circle cx="462.5" cy="975.5" r="2.7" fill="#fff" stroke="#006633" stroke-width="1.3"/>
<circle cx="462.5" cy="990.2" r="2.7" fill="#fff" stroke="#006633" stroke-width="1.3"/>
<circle cx="462.5" cy="1002.8" r="2.7" fill="#fff" stroke="#006633" stroke-width="1.3"/>
<circle cx="462.5" cy="1013.3" r="2.7" fill="#fff" stroke="#006633" stroke-width="1.3"/>
<circle cx="462.5" cy="1021.2" r="2.7" fill="#fff" stroke="#006633" stroke-width="1.3"/>
<circle cx="462.5" cy="1031.2" r="2.7" fill="#fff" stroke="#006633" stroke-width="1.3"/>
<circle cx="462.5" cy="1066.9" r="2.7" fill="#fff" stroke="#006633" stroke-width="1.3"/>
<circle cx="491.6" cy="982.8" r="2.7" fill="#fff" stroke="#6600FF" stroke-width="1.3"/>
<circle cx="484.5" cy="1007.5" r="2.7" fill="#fff" stroke="#6600FF" stroke-width="1.3"/>
<circle cx="498.2" cy="1011.7" r="2.7" fill="#fff" stroke="#6600FF" stroke-width="1.3"/>
<circle cx="491.6" cy="1040.9" r="2.7" fill="#fff" stroke="#6600FF" stroke-width="1.3"/>
<circle cx="484.5" cy="1065.6" r="2.7" fill="#fff" stroke="#6600FF" stroke-width="1.3"/>
<circle cx="498.2" cy="1065.3" r="2.7" fill="#fff" stroke="#6600FF" stroke-width="1.3"/>
<circle cx="491.6" cy="1071.9" r="2.7" fill="#fff" stroke="#6600FF" stroke-width="1.3"/>
<circle cx="491.6" cy="1084.0" r="2.7" fill="#fff" stroke="#6600FF" stroke-width="1.3"/>
<text transform="translate(332.9 1020.0999999999999) rotate(-90)" font-size="11.7" text-anchor="middle">Freezing (%)</text>
<rect x="529" y="1058.8" width="16.4" height="9.5" fill="#006633"/><rect x="529" y="1078.3" width="16.4" height="9.5" fill="#6600FF"/>
<text x="553.5" y="1067.6" font-size="11.5">Sal - Sal 1 mg/kg</text><text x="553.5" y="1087.6" font-size="11.5">Alp - Sal 1 mg/kg</text>
<path class="ax" d="M648 1062.3H671.5V1085.6H648"/>
<text x="675.2" y="1084.6" font-size="22" font-weight="bold">*</text>
<text x="437" y="1132.6" font-size="11.4" text-anchor="middle" xml:space="preserve">Sex: p = 0.2748</text>
<text x="437" y="1147" font-size="11.4" text-anchor="middle" font-weight="bold" xml:space="preserve">* Condition: p = 0.0114</text>
<text x="437" y="1161" font-size="11.4" text-anchor="middle" xml:space="preserve">Sex x Condition: p = 0.8524</text>
<defs>
<radialGradient id="glow" cx="50%" cy="50%" r="50%">
<stop offset="0" stop-color="#FFE45C" stop-opacity="0.95"/><stop offset="0.45" stop-color="#FFEE90" stop-opacity="0.6"/><stop offset="1" stop-color="#FFF6C0" stop-opacity="0"/>
</radialGradient>
<radialGradient id="lem" cx="38%" cy="35%" r="75%">
<stop offset="0" stop-color="#F3DA3A"/><stop offset="0.6" stop-color="#E5C51F"/><stop offset="1" stop-color="#C4A012"/>
</radialGradient>
<linearGradient id="leafg" x1="0" y1="0" x2="0.3" y2="1"><stop offset="0" stop-color="#7CBF45"/><stop offset="1" stop-color="#489832"/></linearGradient>
<g id="cage">
<path d="M0 0H46.2L59.2 8.1V38.7H13.3L0 28.2Z" fill="#E8EEF3"/>
<path d="M0 0H46.2L59.2 8.1H13.3Z" fill="#F0F4F7"/>
<path d="M0 0L13.3 8.1V38.7L0 28.2Z" fill="#ECF1F5"/>
<path d="M-5.3 28.2H53.6L72 40H8.3Z" fill="#7C838A"/>
<path d="M13.3 28.2H46.2L59.2 38.7H13.3Z" fill="#6A7077"/>
<path d="M8.3 40H72V41.2H8.3Z" fill="#555A60"/>
<path d="M0 28.2H13.3V38.7Z" fill="#A8B2BA"/>
<path d="M46.2 28.2H59.2V38.7Z" fill="#A3ADB5"/>
<path d="M13.3 38.7H59.2V40H13.3Z" fill="#8D949B"/>
<path d="M0 0H46.2L59.2 8.1V38.7M0 0V28.2M0 0L13.3 8.1H59.2M13.3 8.1V38.7M46.2 0V28.2" fill="none" stroke="#B7C5CF" stroke-width="0.5"/>
<path d="M0 28.2L13.3 38.7H59.2L46.2 28.2" fill="none" stroke="#C9D3DA" stroke-width="0.4" stroke-opacity="0.7"/>
</g>
<g id="bolt"><path d="M0.9 -6.9H4.1L2.1 -3.1L3.5 -2.7L0.6 1.1L1.9 1.5L-4.2 7L-1.8 2.4L-2.9 2.1L-0.6 -1.6L-1.9 -2Z" fill="#E66A10"/></g>
<g id="bolts3"><use href="#bolt" x="-8.05" y="0"/><use href="#bolt" x="0" y="0"/><use href="#bolt" x="6.05" y="0"/></g>
<g id="lemon">
<path d="M5.4 -13.2C1.5 -18 -8 -17.5 -11.4 -8.1C-6.5 -5.6 2 -6.2 5.4 -13.2Z" fill="url(#leafg)"/>
<path d="M5.2 -13.1C0 -12.6 -6 -11 -11.2 -8.2" stroke="#357A26" stroke-width="0.45" fill="none"/>
<path d="M6.3 -14.4C5 -12.6 3.6 -10.6 2.9 -8.4" stroke="#8A6A2C" stroke-width="1" fill="none" stroke-linecap="round"/>
<g transform="rotate(17)"><path d="M0 -9.4C1.2 -9.4 1.4 -8.6 2.6 -8C5.6 -6.4 6.9 -3.4 6.9 0C6.9 3.6 5.4 6.6 2.4 8.2C1.4 8.8 1.2 10.2 0 10.2C-1.2 10.2 -1.4 8.8 -2.4 8.2C-5.4 6.6 -6.9 3.6 -6.9 0C-6.9 -3.4 -5.6 -6.4 -2.6 -8C-1.4 -8.6 -1.2 -9.4 0 -9.4Z" fill="url(#lem)"/></g>
</g>
<g id="bulb">
<circle cx="0" cy="1" r="14" fill="url(#glow)"/>
<path d="M-2.6 10H2.6V15.4Q2.6 16.6 1.2 16.6H-1.2Q-2.6 16.6 -2.6 15.4Z" fill="#8E9196"/>
<path d="M-2.6 11.7H2.6M-2.6 13.4H2.6M-2.6 15.1H2.6" stroke="#B9BCC0" stroke-width="0.6"/>
<path d="M0 -6.3A6.3 6.3 0 0 1 4.6 4.3C3.4 6 3 7.8 2.9 10.3H-2.9C-3 7.8 -3.4 6 -4.6 4.3A6.3 6.3 0 0 1 0 -6.3Z" fill="#F6B915"/>
<path d="M-3.6 -1.5A4 4 0 0 1 -0.8 -4.6" stroke="#FFE37A" stroke-width="1" fill="none" stroke-linecap="round"/>
<path d="M-1.3 10V3.2H1.3V10M-2 3.2H2" stroke="#E29A0C" stroke-width="0.6" fill="none"/>
</g>
<g id="mouse">
<path d="M-3.2 10.6L-5.6 20L-3.9 20.4L-1.4 11.2Z" fill="#B9D6E6"/>
<path d="M-3.2 10.6L-3.7 12.6L-1.95 13.1L-1.4 11.2Z" fill="#5FA8A0"/>
<path d="M0 12.5V17" stroke="#C4807C" stroke-width="0.9" stroke-linecap="round" fill="none"/>
<path d="M5 10.6L5.7 12.3L10.2 14M-5 10.6L-5.7 12.3L-10.2 14" stroke="#C4807C" stroke-width="1.1" stroke-linecap="round" stroke-linejoin="round" fill="none"/>
<circle cx="-9.9" cy="-11.3" r="1.05" fill="#C98A86"/><circle cx="9.9" cy="-11.3" r="1.05" fill="#C98A86"/>
<circle cx="-4.7" cy="-12.6" r="1.15" fill="#C98A86"/><circle cx="4.7" cy="-12.6" r="1.15" fill="#C98A86"/>
<path d="M0.00 -18.20L1.05 -17.30L1.60 -15.20L2.60 -14.00L4.40 -13.40L4.90 -11.80L3.80 -9.70L5.00 -8.60L7.60 -9.60L9.30 -11.40L10.10 -10.60L8.40 -8.20L5.90 -5.60L4.80 -3.40L5.00 0.00L6.10 2.90L7.30 5.30L7.40 7.60L6.20 9.90L5.00 11.00L2.90 11.10L1.20 12.30L0.00 12.90L-1.20 12.30L-2.90 11.10L-5.00 11.00L-6.20 9.90L-7.40 7.60L-7.30 5.30L-6.10 2.90L-5.00 0.00L-4.80 -3.40L-5.90 -5.60L-8.40 -8.20L-10.10 -10.60L-9.30 -11.40L-7.60 -9.60L-5.00 -8.60L-3.80 -9.70L-4.90 -11.80L-4.40 -13.40L-2.60 -14.00L-1.60 -15.20L-1.05 -17.30L0.00 -18.20Z" fill="#7B5D4B" stroke="#7B5D4B" stroke-width="0.5" stroke-linejoin="round"/>
<path d="M-2.6 -10.4Q0 -8.6 2.6 -10.4" stroke="#6A4E3E" stroke-width="0.7" fill="none"/>
<circle cx="-1.6" cy="5.1" r="0.9" fill="#D9473F"/>
<path d="M-2.1 6L-2.2 8.6" stroke="#5F6468" stroke-width="0.5"/>
</g>
</defs>
<use href="#cage" x="48.4" y="542.2"/>
<use href="#bolts3" x="82.45" y="559.7"/>
<use href="#cage" x="190.3" y="542.3"/>
<use href="#bulb" x="84.4" y="518.9"/>
<use href="#bulb" x="226.3" y="517.6"/>
<use href="#lemon" x="67.9" y="526.1"/>
<use href="#lemon" x="209.7" y="524.8"/>
<use href="#mouse" x="27.5" y="594.3"/>
<text x="41.49" y="500" font-size="16.1" textLength="58.69" lengthAdjust="spacingAndGlyphs" fill="#111" stroke="#111" stroke-width="0.3">Training</text>
<text x="172.84" y="500" font-size="16.1" textLength="90.48" lengthAdjust="spacingAndGlyphs" fill="#111" stroke="#111" stroke-width="0.3">Re-exposure</text>
<text x="41.87" y="598.9" font-size="15.3" textLength="69.68" lengthAdjust="spacingAndGlyphs" fill="#111" stroke="#111" stroke-width="0.3">Sal or Alp</text>
<text x="42.05" y="616.8" font-size="15.3" textLength="68.78" lengthAdjust="spacingAndGlyphs" fill="#111" stroke="#111" stroke-width="0.3">(1mg/kg)</text>
<text x="194.57" y="598.9" font-size="15.3" textLength="69.68" lengthAdjust="spacingAndGlyphs" fill="#111" stroke="#111" stroke-width="0.3">Sal or Alp</text>
<text x="194.25" y="616.8" font-size="15.3" textLength="68.99" lengthAdjust="spacingAndGlyphs" fill="#111" stroke="#111" stroke-width="0.3">(1mg/kg)</text>
<text x="123.95" y="543.7" font-size="16.1" textLength="47.63" lengthAdjust="spacingAndGlyphs" fill="#111" stroke="#111" stroke-width="0.3">5 days</text>
<path d="M124.3 559.5H165.9" stroke="#111" stroke-width="1.5"/><path d="M171.9 559.5L163.20000000000002 555.2V563.8Z" fill="#111"/>
<use href="#cage" transform="translate(49.1 783) scale(0.953)"/>
<use href="#bolts3" transform="translate(81.3 800.9) scale(0.953)"/>
<use href="#cage" transform="translate(184.2 782.8) scale(0.953)"/>
<use href="#bulb" transform="translate(83.6 755.8) scale(0.953)"/>
<use href="#bulb" transform="translate(218.7 759.8) scale(0.953)"/>
<use href="#lemon" transform="translate(67.5 762) scale(0.953)"/>
<use href="#lemon" transform="translate(202.4 766) scale(0.953)"/>
<use href="#mouse" transform="translate(29 832.4) scale(0.958)"/>
<text x="42.50" y="742.1" font-size="15.1" textLength="56.64" lengthAdjust="spacingAndGlyphs" fill="#111" stroke="#111" stroke-width="0.3">Training</text>
<text x="167.18" y="742.1" font-size="15.1" textLength="87.00" lengthAdjust="spacingAndGlyphs" fill="#111" stroke="#111" stroke-width="0.3">Re-exposure</text>
<text x="50.40" y="839" font-size="14.6" textLength="66.73" lengthAdjust="spacingAndGlyphs" fill="#111" stroke="#111" stroke-width="0.3">Sal or Alp</text>
<text x="50.10" y="856.6" font-size="14.6" textLength="65.47" lengthAdjust="spacingAndGlyphs" fill="#111" stroke="#111" stroke-width="0.3">(1mg/kg)</text>
<text x="176.29" y="839" font-size="14.6" textLength="67.64" lengthAdjust="spacingAndGlyphs" fill="#111" stroke="#111" stroke-width="0.3">Sal or Alp</text>
<text x="176.03" y="856.6" font-size="14.6" textLength="86.67" lengthAdjust="spacingAndGlyphs" fill="#111" stroke="#111" stroke-width="0.3">(0.25mg/kg)</text>
<text x="120.84" y="780.6" font-size="15.1" textLength="44.96" lengthAdjust="spacingAndGlyphs" fill="#111" stroke="#111" stroke-width="0.3">5 days</text>
<path d="M121.4 794.8H160.4" stroke="#111" stroke-width="1.5"/><path d="M166.4 794.8L157.70000000000002 790.5V799.0999999999999Z" fill="#111"/>
<use href="#cage" transform="translate(50.3 1064) scale(0.98)"/>
<use href="#bolts3" transform="translate(84 1082.6) scale(0.98)"/>
<use href="#cage" transform="translate(190.5 1064) scale(0.98)"/>
<use href="#bulb" transform="translate(85.9 1034.6) scale(0.98)"/>
<use href="#bulb" transform="translate(225.7 1039) scale(0.98)"/>
<use href="#lemon" transform="translate(69.5 1042.2) scale(0.98)"/>
<use href="#lemon" transform="translate(209.3 1046.2) scale(0.98)"/>
<use href="#mouse" x="29.5" y="1115.3"/>
<text x="43.80" y="1022.3" font-size="16.1" textLength="57.46" lengthAdjust="spacingAndGlyphs" fill="#111" stroke="#111" stroke-width="0.3">Training</text>
<text x="172.54" y="1022.3" font-size="16.1" textLength="89.86" lengthAdjust="spacingAndGlyphs" fill="#111" stroke="#111" stroke-width="0.3">Re-exposure</text>
<text x="51.57" y="1121.3" font-size="15.3" textLength="69.68" lengthAdjust="spacingAndGlyphs" fill="#111" stroke="#111" stroke-width="0.3">Sal or Alp</text>
<text x="51.26" y="1139.7" font-size="15.3" textLength="68.47" lengthAdjust="spacingAndGlyphs" fill="#111" stroke="#111" stroke-width="0.3">(1mg/kg)</text>
<text x="204.91" y="1121.3" font-size="15.3" textLength="22.19" lengthAdjust="spacingAndGlyphs" fill="#111" stroke="#111" stroke-width="0.3">Sal</text>
<text x="124.87" y="1062" font-size="16.1" textLength="46.19" lengthAdjust="spacingAndGlyphs" fill="#111" stroke="#111" stroke-width="0.3">5 days</text>
<path d="M124.7 1076.3H165.7" stroke="#111" stroke-width="1.5"/><path d="M171.7 1076.3L163.0 1072.0V1080.6Z" fill="#111"/>
</g></svg></body></html>
